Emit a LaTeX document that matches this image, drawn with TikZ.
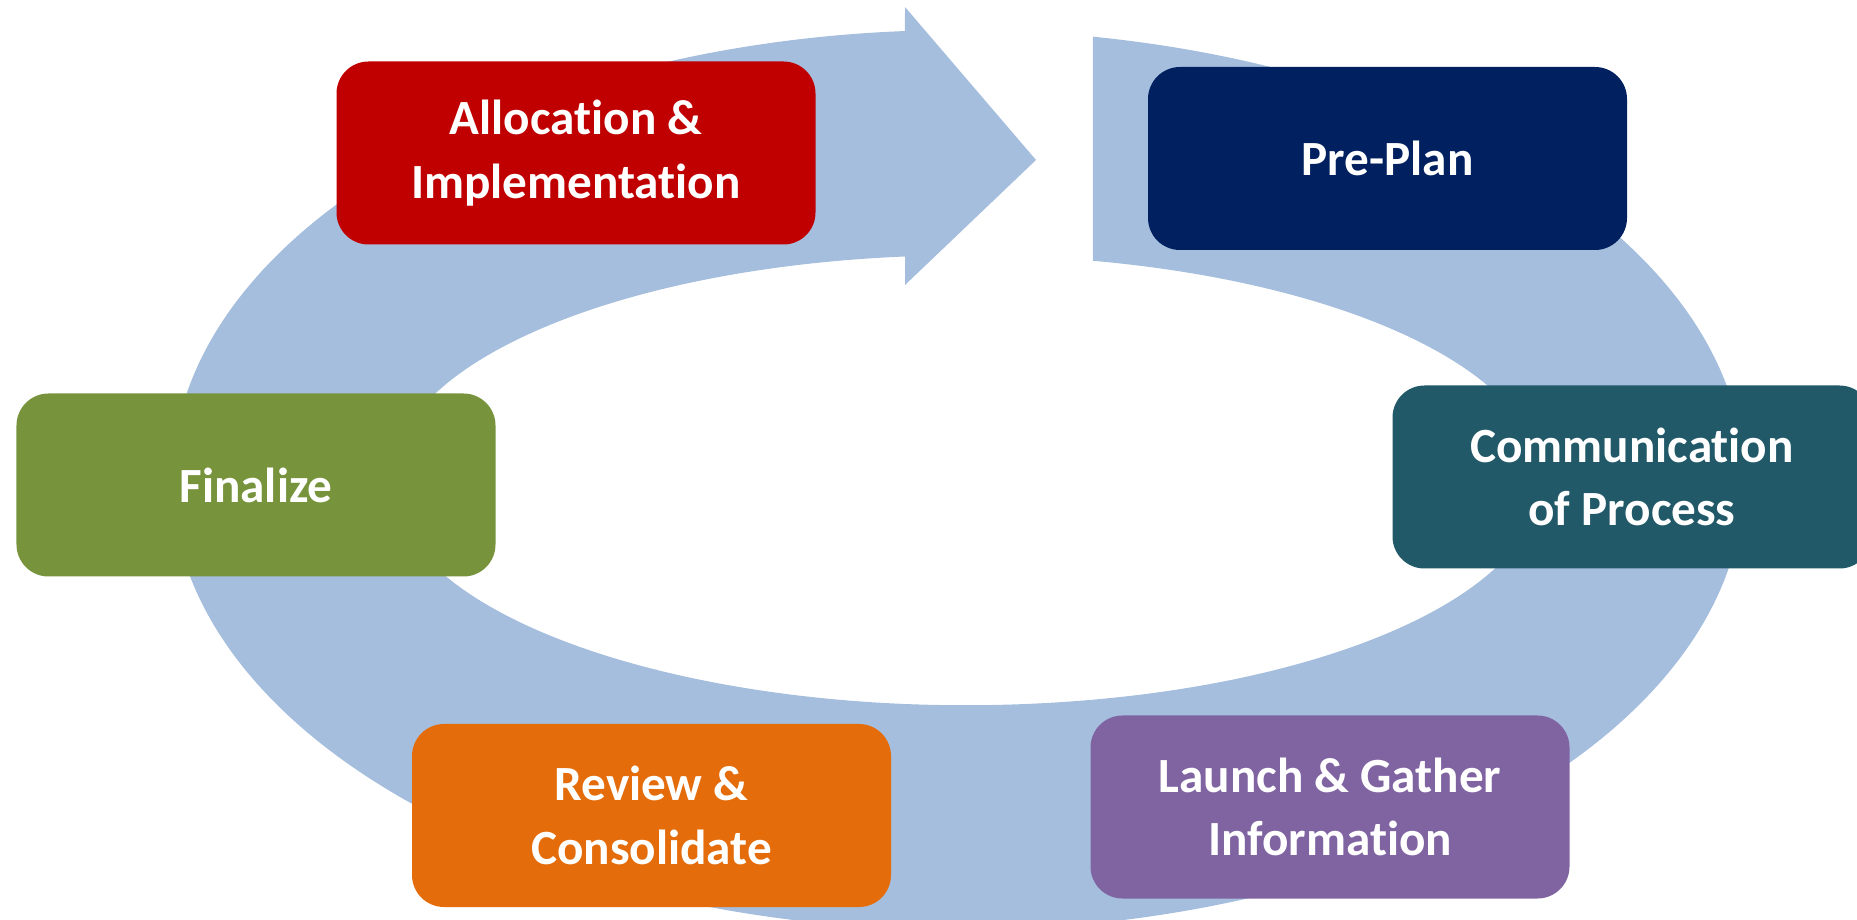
\documentclass[tikz,border=0pt]{standalone}
\usepackage{fontspec}
\setmainfont{Carlito}[Ligatures=NoCommon]
\usepackage{tikz}
\usetikzlibrary{shapes.geometric, arrows}
\definecolor{ringblue}{RGB}{165,190,221}
\definecolor{allocred}{RGB}{192,0,0}
\definecolor{plannavy}{RGB}{0,32,96}
\definecolor{commteal}{RGB}{33,89,104}
\definecolor{finalgreen}{RGB}{119,147,60}
\definecolor{revieworange}{RGB}{228,108,10}
\definecolor{launchpurple}{RGB}{128,100,162}
\tikzstyle{stage} = [rectangle, rounded corners=0.64cm, minimum width=9.58cm, minimum height=3.66cm, text centered, align=center, text=white, font=\fontsize{28}{36}\selectfont\bfseries]
\tikzstyle{ring} = [fill=ringblue]

\begin{document}
\begin{tikzpicture}
    \useasboundingbox (0,0) rectangle (37.14,18.38);
    \clip (0,0) rectangle (37.14,18.38);
    % curved arrow round the cycle
    \fill [ring] (19.16,8.78) ++(80.11:15.72 and 9.00)
        arc[start angle=80.11, end angle=-266.13, x radius=15.72, y radius=9.00]
        -- (18.10,18.24) -- (20.72,15.18) -- (18.10,12.68) -- (18.10,13.25)
        arc[start angle=96.09, end angle=437.24, x radius=11.50, y radius=4.50]
        -- cycle;
    \node (preplan) [stage, fill=plannavy] at (27.75,15.21) {Pre-Plan};
    \node (comm) [stage, fill=commteal] at (32.64,8.84) {Communication\\of Process};
    \node (launch) [stage, fill=launchpurple] at (26.60,2.24) {Launch \& Gather\\Information};
    \node (review) [stage, fill=revieworange] at (13.03,2.07) {Review \&\\Consolidate};
    \node (final) [stage, fill=finalgreen] at (5.12,8.68) {Finalize};
    \node (alloc) [stage, fill=allocred] at (11.52,15.32) {Allocation \&\\Implementation};
\end{tikzpicture}
\end{document}
